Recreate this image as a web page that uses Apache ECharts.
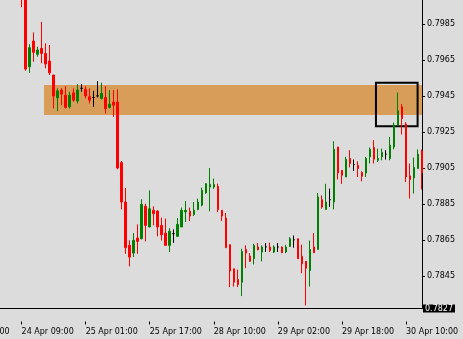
<!DOCTYPE html>
<html><head><meta charset="utf-8">
<script src="https://cdn.jsdelivr.net/npm/echarts@6/dist/echarts.min.js"></script>
<style>html,body{margin:0;padding:0;background:#dcdcdc}#c{width:463px;height:339px}</style>
</head><body><div id="c"></div>
<script>
// Trading sessions that define the hourly categories: [day, firstHour, lastHour]
const sessions = [['23 Apr',17,23],['24 Apr',0,23],['25 Apr',0,23],['28 Apr',1,23],['29 Apr',0,23],['30 Apr',0,14]];
// Index of the first bar with readable values (24 Apr 09:00); earlier bars are off the chart
const firstBar = 16;
// OHLC values of the hourly bars from 24 Apr 09:00 to 30 Apr 14:00
const opens = [0.8012,0.8004,0.79614,0.79757,0.79683,0.79716,0.79688,0.79646,0.79568,0.79441,
0.79484,0.79456,0.79391,0.79469,0.79424,0.79494,0.79488,0.79447,0.79443,0.79452,
0.79438,0.79443,0.79388,0.79417,0.79417,0.79081,0.78862,0.78621,0.78578,0.78662,
0.78658,0.78838,0.78723,0.78816,0.78812,0.78732,0.78689,0.78621,0.78686,0.78671,
0.78723,0.78807,0.78810,0.78793,0.78821,0.78844,0.78912,0.78945,0.78945,0.78949,
0.78816,0.78773,0.78625,0.78491,0.78431,0.78416,0.78598,0.78561,0.78547,0.78612,
0.78584,0.78612,0.78612,0.78584,0.78612,0.78612,0.78584,0.78615,0.78652,0.78658,
0.78560,0.78532,0.78481,0.78612,0.78598,0.78875,0.78821,0.78875,0.78862,0.79168,
0.79038,0.79001,0.79104,0.79070,0.79066,0.79026,0.79023,0.79113,0.79165,0.79094,
0.79113,0.79128,0.79104,0.79168,0.79289,0.79391,0.79295,0.79007,0.78996,0.79048,0.79146];
const closes = [0.8004,0.79601,0.79720,0.79694,0.79707,0.79688,0.79629,0.79580,0.79451,0.79480,
0.79462,0.79388,0.79456,0.79428,0.79484,0.79494,0.79452,0.79428,0.79443,0.79452,
0.79466,0.79382,0.79406,0.79400,0.79051,0.78862,0.78608,0.78556,0.78649,0.78643,
0.78849,0.78732,0.78825,0.78797,0.78723,0.78680,0.78621,0.78699,0.78686,0.78738,
0.78816,0.78816,0.78784,0.78816,0.78862,0.78927,0.78964,0.78960,0.78960,0.78820,
0.78784,0.78608,0.78478,0.78416,0.78403,0.78587,0.78578,0.78532,0.78621,0.78597,
0.78612,0.78612,0.78593,0.78612,0.78612,0.78580,0.78612,0.78658,0.78652,0.78547,
0.78519,0.78494,0.78598,0.78580,0.78890,0.78834,0.78862,0.78875,0.79155,0.79023,
0.79011,0.79100,0.79076,0.79070,0.79048,0.79005,0.79104,0.79155,0.79100,0.79104,
0.79137,0.79128,0.79178,0.79289,0.79369,0.79326,0.79001,0.78987,0.79054,0.79128,0.79026];
const lows = [0.79945,0.79592,0.79580,0.79642,0.79670,0.79633,0.79605,0.79568,0.79382,0.79367,
0.79400,0.79382,0.79382,0.79419,0.79410,0.79475,0.79438,0.79410,0.79391,0.79443,
0.79432,0.79354,0.79382,0.79335,0.79044,0.78821,0.78574,0.78504,0.78556,0.78574,
0.78654,0.78643,0.78723,0.78732,0.78671,0.78648,0.78621,0.78584,0.78634,0.78671,
0.78723,0.78751,0.78756,0.78784,0.78816,0.78838,0.78908,0.78810,0.78935,0.78806,
0.78756,0.78608,0.78389,0.78392,0.78389,0.78339,0.78494,0.78530,0.78515,0.78593,
0.78532,0.78584,0.78584,0.78578,0.78584,0.78578,0.78578,0.78612,0.78608,0.78547,
0.78466,0.78287,0.78392,0.78580,0.78598,0.78825,0.78821,0.78834,0.78821,0.78987,
0.78963,0.79001,0.79054,0.79035,0.79001,0.78977,0.79001,0.79076,0.79076,0.79085,
0.79094,0.79098,0.79094,0.79155,0.79289,0.79237,0.78973,0.78881,0.78909,0.79048,0.78931];
const highs = [0.8015,0.8006,0.79739,0.79805,0.79725,0.79864,0.79744,0.79735,0.79568,0.79494,
0.79495,0.79506,0.79475,0.79494,0.79517,0.79517,0.79506,0.79494,0.79480,0.79534,
0.79525,0.79506,0.79484,0.79484,0.79488,0.79090,0.78940,0.78649,0.78689,0.78738,
0.78877,0.78853,0.78927,0.78838,0.78816,0.78775,0.78770,0.78717,0.78710,0.78773,
0.78831,0.78867,0.78831,0.78862,0.78881,0.78942,0.78967,0.79051,0.78992,0.78964,
0.78816,0.78801,0.78625,0.78491,0.78486,0.78602,0.78621,0.78578,0.78630,0.78634,
0.78621,0.78634,0.78636,0.78621,0.78634,0.78615,0.78624,0.78667,0.78676,0.78658,
0.78625,0.78532,0.78648,0.78689,0.78912,0.78899,0.78963,0.78937,0.79200,0.79168,
0.79038,0.79113,0.79150,0.79098,0.79089,0.79033,0.79113,0.79165,0.79206,0.79159,
0.79159,0.79150,0.79224,0.79304,0.79471,0.79406,0.79306,0.79076,0.79109,0.79154,0.79154];
// Price scale
const yMin = 0.7827, yMax = 0.79985;
const priceTicks = [0.7845,0.7865,0.7885,0.7905,0.7925,0.7945,0.7965,0.7985];
const markedPrice = 0.7827;
// Drawn zones (bar index from / to, price top / bottom)
const zoneBars = [21.6, 116], zonePrices = [0.79512, 0.79346];
const boxBars = [104.5, 114.9], boxPrices = [0.79525, 0.79283];

const times = [];
sessions.forEach(s => { for (let h = s[1]; h <= s[2]; h++) times.push(s[0] + ' ' + String(h).padStart(2,'0') + ':00'); });
const candles = times.map((t, i) => {
  const k = i - firstBar;
  if (k < 0 || k >= opens.length) return ['-','-','-','-'];
  const v = [opens[k], closes[k], lows[k], highs[k]];
  if (opens[k] === closes[k]) return {value: v, itemStyle: {color:'#000', color0:'#000', borderColor:'#000', borderColor0:'#000'}};
  return v;
});
const font = 'DejaVu Sans';
const labelEvery = (i) => i % 16 === 0;
const chart = echarts.init(document.getElementById('c'), null, {renderer:'canvas'});
chart.setOption({
  animation: false,
  backgroundColor: '#dcdcdc',
  grid: {left: -42.5, right: 41, top: 0, bottom: 30.5, containLabel: false, outerBoundsMode: 'none'},
  xAxis: [
    {type:'category', data: times, boundaryGap: false, position:'bottom',
     axisLine:{show:true, lineStyle:{color:'#000', width:1}}, axisTick:{show:false}, axisLabel:{show:false}, splitLine:{show:false}},
    {type:'category', data: times, boundaryGap: false, position:'bottom', offset: 13,
     axisLine:{show:false}, axisTick:{show:true, interval: labelEvery, length:3, lineStyle:{color:'#000'}},
     axisLabel:{show:true, interval: labelEvery, align:'left', margin:6, fontSize:8, fontFamily:font, color:'#000'},
     splitLine:{show:false}},
    {type:'value', min:0, max: times.length - 1, show:false}
  ],
  yAxis: [
    {type:'value', position:'right', min:yMin, max:yMax, scale:true,
     axisLine:{show:true, onZero:false, lineStyle:{color:'#000', width:1}},
     axisTick:{show:true, length:3, customValues: priceTicks, lineStyle:{color:'#000'}},
     axisLabel:{show:true, margin:5, customValues: priceTicks, fontSize:8, fontFamily:font, color:'#000', formatter: v => v.toFixed(4)},
     splitLine:{show:false}},
    {type:'value', position:'right', min:yMin, max:yMax, scale:true,
     axisLine:{show:false}, axisTick:{show:false}, splitLine:{show:false},
     axisLabel:{show:true, margin:1, customValues:[markedPrice], showMinLabel:true, fontSize:8, fontFamily:font,
       color:'#fff', backgroundColor:'#000', padding:[0,2,0,2], lineHeight:8, verticalAlign:'middle',
       formatter: v => v.toFixed(4)}}
  ],
  series: [
    {type:'line', xAxisIndex:2, yAxisIndex:0, data:[], z:1, silent:true,
     markArea:{silent:true, data:[[{xAxis: zoneBars[0], yAxis: zonePrices[0]},{xAxis: zoneBars[1], yAxis: zonePrices[1]}]],
       itemStyle:{color:'#d99d5a', borderWidth:0}}},
    {type:'candlestick', xAxisIndex:0, yAxisIndex:0, data: candles, barWidth:2, z:3, clip:true,
     itemStyle:{color:'#008000', color0:'#ff0000', borderColor:'#008000', borderColor0:'#ff0000', borderWidth:1}},
    {type:'line', xAxisIndex:2, yAxisIndex:0, data:[], z:5, silent:true,
     markArea:{silent:true, data:[[{xAxis: boxBars[0], yAxis: boxPrices[0]},{xAxis: boxBars[1], yAxis: boxPrices[1]}]],
       itemStyle:{color:'rgba(0,0,0,0)', borderColor:'#000', borderWidth:2}}}
  ]
});
</script></body></html>
